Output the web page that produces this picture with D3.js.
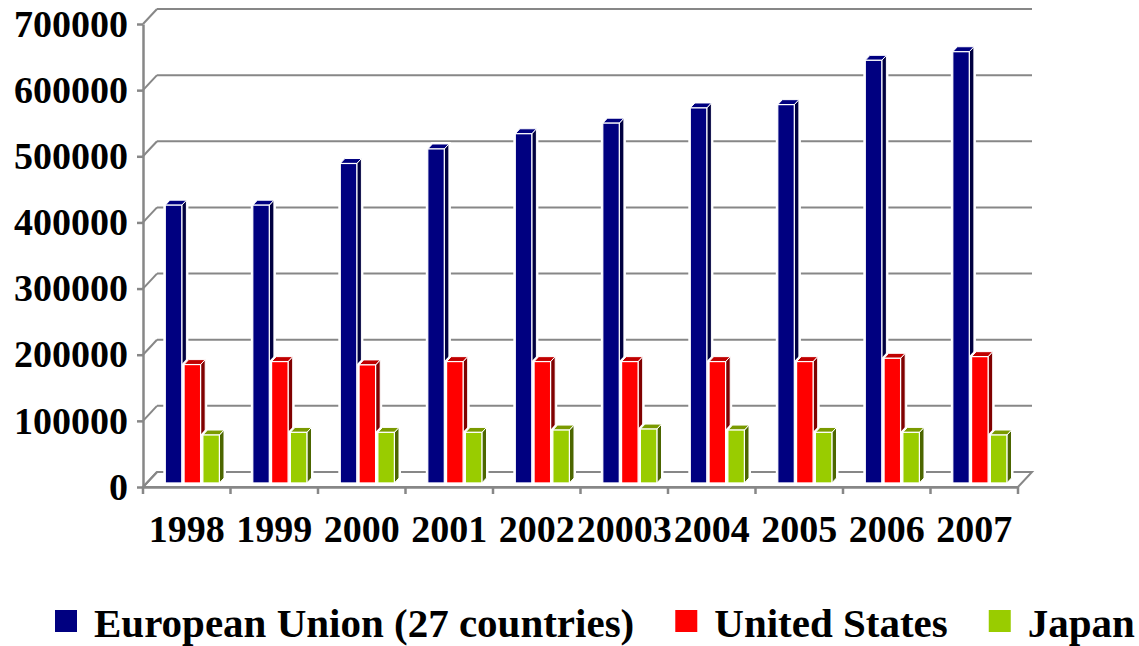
<!DOCTYPE html>
<html>
<head>
<meta charset="utf-8">
<script src="https://cdn.jsdelivr.net/npm/d3@7"></script>
<style>
  body { margin: 0; background: #fff; }
  text { font-family: "Liberation Serif", "Times New Roman", serif; font-weight: bold; }
</style>
</head>
<body>
<script>
// data
var years = ["1998", "1999", "2000", "2001", "2002", "20003", "2004", "2005", "2006", "2007"];
var euValues = [420000, 420000, 483000, 505000, 528000, 544000, 567000, 572000, 639000, 652000];
var usValues = [179000, 183500, 178500, 183500, 183500, 183500, 183500, 183500, 188500, 191000];
var japanValues = [72500, 76500, 76500, 76500, 80000, 81500, 80000, 76500, 76500, 72500];
var seriesNames = ["European Union (27 countries)", "United States", "Japan"];
var yTicks = [0, 100000, 200000, 300000, 400000, 500000, 600000, 700000];

var seriesValues = [euValues, usValues, japanValues];
var faceColors = ["#000080", "#ff0000", "#99cc00"];
var topColors = ["#000080", "#c00000", "#7a9a00"];
var sideColors = ["#000040", "#800000", "#4c6600"];

var width = 1139, height = 646;
var depthX = 14, depthY = 15;      // full floor depth
var barFront = 0.27, barBack = 0.6; // bars sit inside the floor depth
var gridColor = "#878787";

var svg = d3.select("body")
    .append("svg")
    .attr("width", width)
    .attr("height", height);

var x = d3.scaleBand().domain(years).range([143, 1018]);
var y = d3.scaleLinear().domain([0, 700000]).range([487, 24]);
var sub = d3.scaleBand().domain(seriesNames).range([18.5, 72.6]).paddingInner(0.122);

var x0 = x.range()[0], x1 = x.range()[1], yBase = y(0);

// back wall gridlines + left wall slants
svg.selectAll(".grid")
    .data(yTicks)
    .enter()
    .append("line")
    .attr("class", "grid")
    .attr("x1", x0 + depthX)
    .attr("x2", x1 + depthX)
    .attr("y1", function (d) { return y(d) - depthY; })
    .attr("y2", function (d) { return y(d) - depthY; })
    .style("stroke", gridColor)
    .style("stroke-width", 2);

svg.selectAll(".slant")
    .data(yTicks)
    .enter()
    .append("line")
    .attr("class", "slant")
    .attr("x1", x0)
    .attr("x2", x0 + depthX)
    .attr("y1", function (d) { return y(d); })
    .attr("y2", function (d) { return y(d) - depthY; })
    .style("stroke", gridColor)
    .style("stroke-width", 2);

// floor outline
svg.append("path")
    .attr("d", "M" + x0 + "," + yBase + "L" + x1 + "," + yBase +
        "L" + (x1 + depthX) + "," + (yBase - depthY) + "L" + (x0 + depthX) + "," + (yBase - depthY) + "Z")
    .style("fill", "none")
    .style("stroke", gridColor)
    .style("stroke-width", 2);

// y axis
var yAxis = svg.append("g")
    .attr("transform", "translate(" + x0 + ",0)")
    .call(d3.axisLeft(y).tickValues(yTicks).tickSize(6).tickSizeOuter(0).tickPadding(9)
        .tickFormat(d3.format("d")));
yAxis.selectAll("path, line").style("stroke", gridColor).style("stroke-width", 2.5);
yAxis.selectAll("text").style("font-size", "38px").style("fill", "#000")
    .style("font-family", "Liberation Serif").style("font-weight", "bold");

// x axis (labels centred, ticks at category edges)
var xAxis = svg.append("g")
    .attr("transform", "translate(0," + yBase + ")")
    .call(d3.axisBottom(x).tickSize(0).tickSizeOuter(0).tickPadding(28));
xAxis.select(".domain").style("stroke", gridColor).style("stroke-width", 2.5);
xAxis.selectAll("text").style("font-size", "38px").style("fill", "#000")
    .style("font-family", "Liberation Serif").style("font-weight", "bold");

var edges = years.map(function (d) { return x(d); }).concat([x1]);
svg.selectAll(".xtick")
    .data(edges)
    .enter()
    .append("line")
    .attr("class", "xtick")
    .attr("x1", function (d) { return d; })
    .attr("x2", function (d) { return d; })
    .attr("y1", yBase)
    .attr("y2", yBase + 7)
    .style("stroke", gridColor)
    .style("stroke-width", 2.5);

// 3D bars
var offX = depthX * barFront, offY = depthY * barFront;
var dX = depthX * (barBack - barFront), dY = depthY * (barBack - barFront);
var bw = sub.bandwidth();

years.forEach(function (yr, i) {
    var g = svg.append("g").attr("class", "bar-group");
    seriesNames.forEach(function (name, s) {
        var v = seriesValues[s][i];
        var bx = x(yr) + offX + sub(name);
        var top = y(v) - offY;
        var bot = yBase - offY;
        var pts = function (arr) { return arr.map(function (p) { return p.join(","); }).join(" "); };
        // white halo
        g.append("polygon")
            .attr("points", pts([[bx, bot], [bx, top], [bx + dX, top - dY], [bx + bw + dX, top - dY],
                [bx + bw + dX, bot - dY], [bx + bw, bot]]))
            .style("fill", "#fff").style("stroke", "#fff").style("stroke-width", 4);
        g.append("polygon")
            .attr("points", pts([[bx + bw, top], [bx + bw + dX, top - dY], [bx + bw + dX, bot - dY], [bx + bw, bot]]))
            .style("fill", sideColors[s]).style("stroke", "#fff").style("stroke-width", 1);
        g.append("polygon")
            .attr("points", pts([[bx, top], [bx + dX, top - dY], [bx + bw + dX, top - dY], [bx + bw, top]]))
            .style("fill", topColors[s]).style("stroke", "#fff").style("stroke-width", 1);
        g.append("rect")
            .attr("x", bx)
            .attr("y", top)
            .attr("width", bw)
            .attr("height", bot - top)
            .style("fill", faceColors[s])
            .style("stroke", "#fff")
            .style("stroke-width", 1.2);
    });
});

// legend
var legend = svg.append("g").attr("class", "legend");
var lx = 55;
seriesNames.forEach(function (name, s) {
    legend.append("rect")
        .attr("x", lx)
        .attr("y", 610)
        .attr("width", 22)
        .attr("height", 22)
        .style("fill", faceColors[s]);
    var t = legend.append("text")
        .attr("x", lx + 39)
        .attr("y", 637)
        .style("font-size", "41px")
        .text(name);
    lx = lx + 39 + t.node().getComputedTextLength() + 41;
});
</script>
</body>
</html>
